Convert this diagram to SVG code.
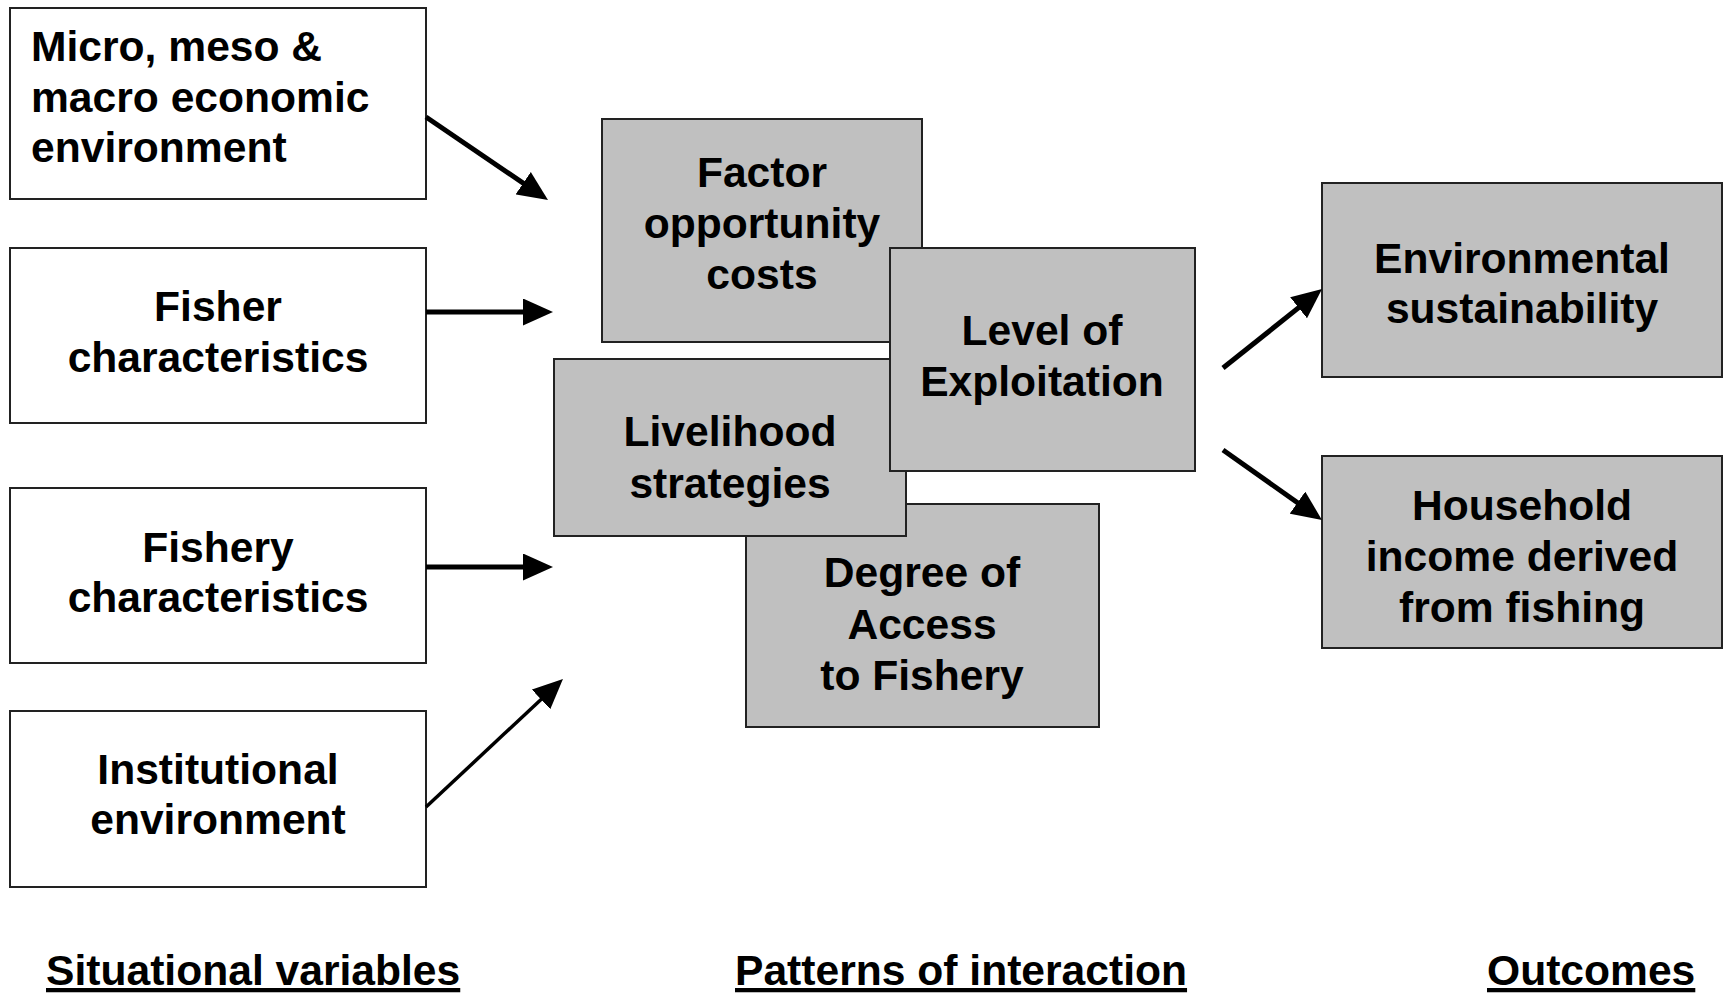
<svg xmlns="http://www.w3.org/2000/svg" width="1728" height="995" viewBox="0 0 1728 995">
<style>
.wbox{fill:#ffffff;stroke:#222;stroke-width:2}
.gbox{fill:#c0c0c0;stroke:#222;stroke-width:2}
text{font-family:"Liberation Sans",Arial,Helvetica,sans-serif;font-weight:bold;font-size:42.6px;fill:#000}
.c{text-anchor:middle}
.u{text-decoration:underline}
.thick{stroke:#000;stroke-width:5;fill:none}
.thin{stroke:#000;stroke-width:3.5;fill:none}
</style>
<defs>
<marker id="ah" viewBox="0 0 30 27" markerWidth="30" markerHeight="27" refX="15" refY="13.5" orient="auto" markerUnits="userSpaceOnUse">
<path d="M0,0 L30,13.5 L0,27 z" fill="#000"/>
</marker>
</defs>
<rect width="1728" height="995" fill="#fff"/>

<g id="micro">
<rect class="wbox" x="10" y="8" width="416" height="191"/>
<text x="31" y="61">Micro, meso &amp;</text>
<text x="31" y="112">macro economic</text>
<text x="31" y="162">environment</text>
</g>
<g id="fisher">
<rect class="wbox" x="10" y="248" width="416" height="175"/>
<text class="c" x="218" y="321">Fisher</text>
<text class="c" x="218" y="372">characteristics</text>
</g>
<g id="fishery">
<rect class="wbox" x="10" y="488" width="416" height="175"/>
<text class="c" x="218" y="562">Fishery</text>
<text class="c" x="218" y="612">characteristics</text>
</g>
<g id="institutional">
<rect class="wbox" x="10" y="711" width="416" height="176"/>
<text class="c" x="218" y="784">Institutional</text>
<text class="c" x="218" y="834">environment</text>
</g>

<g id="degree">
<rect class="gbox" x="746" y="504" width="353" height="223"/>
<text class="c" x="922" y="587">Degree of</text>
<text class="c" x="922" y="639">Access</text>
<text class="c" x="922" y="690">to Fishery</text>
</g>
<g id="factor">
<rect class="gbox" x="602" y="119" width="320" height="223"/>
<text class="c" x="762" y="187">Factor</text>
<text class="c" x="762" y="238">opportunity</text>
<text class="c" x="762" y="289">costs</text>
</g>
<g id="livelihood">
<rect class="gbox" x="554" y="359" width="352" height="177"/>
<text class="c" x="730" y="446">Livelihood</text>
<text class="c" x="730" y="498">strategies</text>
</g>
<g id="level">
<rect class="gbox" x="890" y="248" width="305" height="223"/>
<text class="c" x="1042" y="345">Level of</text>
<text class="c" x="1042" y="396">Exploitation</text>
</g>

<g id="env">
<rect class="gbox" x="1322" y="183" width="400" height="194"/>
<text class="c" x="1522" y="273">Environmental</text>
<text class="c" x="1522" y="323">sustainability</text>
</g>
<g id="household">
<rect class="gbox" x="1322" y="456" width="400" height="192"/>
<text class="c" x="1522" y="520">Household</text>
<text class="c" x="1522" y="571">income derived</text>
<text class="c" x="1522" y="622">from fishing</text>
</g>

<g id="connectors">
<line class="thick" x1="426" y1="117" x2="535.6" y2="191.6" marker-end="url(#ah)"/>
<line class="thick" x1="426" y1="312" x2="538" y2="312" marker-end="url(#ah)"/>
<line class="thick" x1="426" y1="567" x2="538" y2="567" marker-end="url(#ah)"/>
<line class="thin" x1="426" y1="807" x2="552" y2="689.2" marker-end="url(#ah)"/>
<line class="thick" x1="1223" y1="368" x2="1310.3" y2="298.4" marker-end="url(#ah)"/>
<line class="thick" x1="1223" y1="450" x2="1309.7" y2="511.3" marker-end="url(#ah)"/>
</g>

<g id="labels">
<text class="u" x="46" y="985">Situational variables</text>
<text class="u" x="735" y="985">Patterns of interaction</text>
<text class="u" x="1487" y="985">Outcomes</text>
</g>
</svg>
